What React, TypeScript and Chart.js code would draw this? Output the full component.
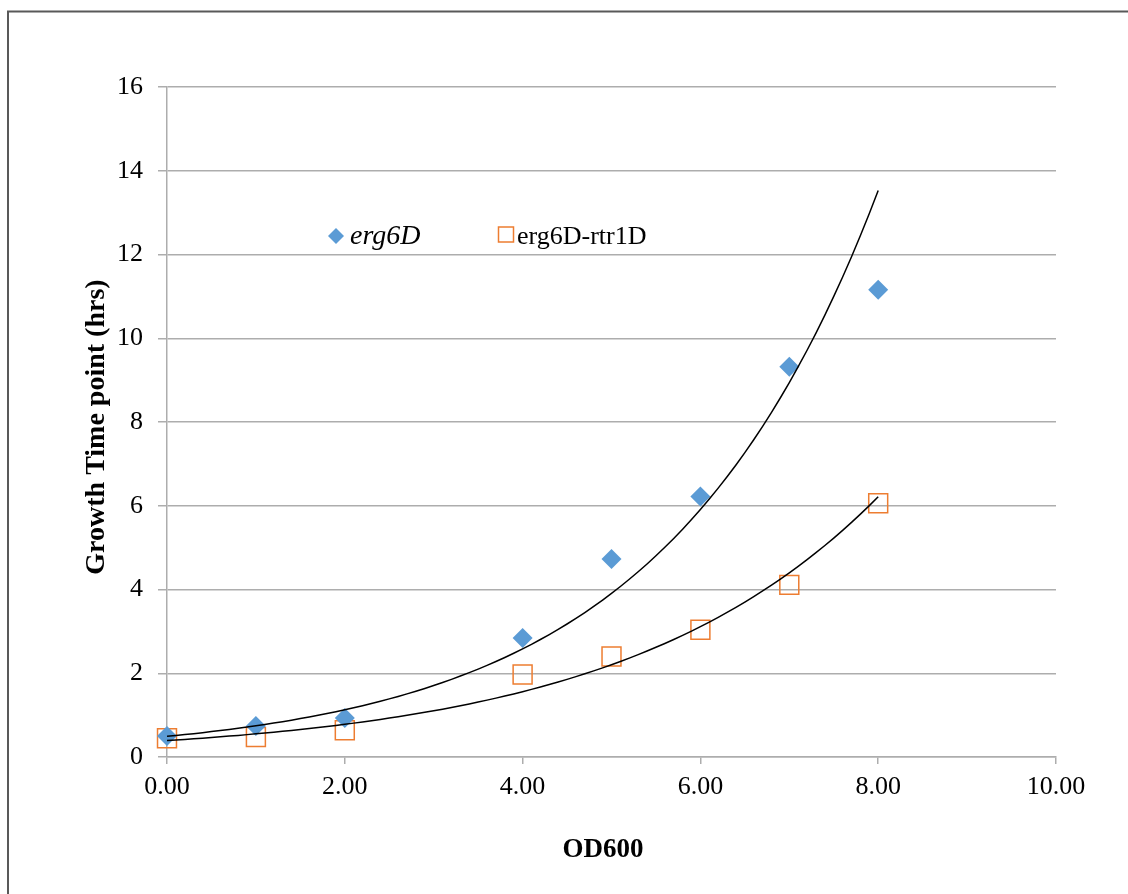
import React, { useEffect, useRef } from "react";
import { Chart, registerables } from "chart.js";

Chart.register(...registerables);

// ---- Data ----
const od600 = [0, 1, 2, 4, 5, 6, 7, 8];
const erg6D = [0.5, 0.74, 0.93, 2.84, 4.73, 6.22, 9.32, 11.16];
const erg6DRtr1D = [0.45, 0.48, 0.64, 1.97, 2.4, 3.04, 4.11, 6.06];
const seriesLabels = ["erg6D", "erg6D-rtr1D"];
const xTickValues = [0, 2, 4, 6, 8, 10];
const yTickValues = [0, 2, 4, 6, 8, 10, 12, 14, 16];
const xTitle = "OD600";
const yTitle = "Growth Time point (hrs)";

const FONT = "'Liberation Serif', 'Times New Roman', serif";
const BLUE = "#5B9BD5";
const ORANGE = "#ED7D31";
const GRID = "#ADADAD";

// Exponential least-squares fit (like a spreadsheet's exponential trendline)
function expFit(xs: number[], ys: number[]) {
  const n = xs.length;
  const ly = ys.map((v) => Math.log(v));
  const mx = xs.reduce((a, b) => a + b, 0) / n;
  const my = ly.reduce((a, b) => a + b, 0) / n;
  let sxy = 0;
  let sxx = 0;
  for (let i = 0; i < n; i++) {
    sxy += (xs[i] - mx) * (ly[i] - my);
    sxx += (xs[i] - mx) * (xs[i] - mx);
  }
  const b = sxy / sxx;
  const a = Math.exp(my - b * mx);
  return (x: number) => a * Math.exp(b * x);
}

function trendPoints(xs: number[], ys: number[]) {
  const f = expFit(xs, ys);
  const lo = Math.min(...xs);
  const hi = Math.max(...xs);
  const pts: { x: number; y: number }[] = [];
  const steps = 80;
  for (let i = 0; i <= steps; i++) {
    const x = lo + ((hi - lo) * i) / steps;
    pts.push({ x, y: f(x) });
  }
  return pts;
}

const framePlugin = {
  id: "frame",
  beforeDraw(chart: any) {
    const ctx = chart.ctx;
    ctx.save();
    ctx.fillStyle = "#ffffff";
    ctx.fillRect(0, 0, chart.width, chart.height);
    ctx.strokeStyle = "#595959";
    ctx.lineWidth = 2;
    ctx.beginPath();
    ctx.moveTo(8, chart.height + 10);
    ctx.lineTo(8, 11.5);
    ctx.lineTo(chart.width + 10, 11.5);
    ctx.stroke();
    ctx.restore();
  },
};

const titlesAndLegend = {
  id: "titlesAndLegend",
  afterDraw(chart: any) {
    const ctx = chart.ctx;
    ctx.save();
    // axis titles
    ctx.fillStyle = "#000";
    ctx.textAlign = "center";
    ctx.textBaseline = "middle";
    ctx.font = `bold 27px ${FONT}`;
    ctx.fillText(xTitle, 603, 850);
    ctx.save();
    ctx.translate(97, 427);
    ctx.rotate(-Math.PI / 2);
    ctx.font = `bold 28px ${FONT}`;
    ctx.fillText(yTitle, 0, 0);
    ctx.restore();

    // legend
    ctx.textBaseline = "middle";
    ctx.textAlign = "left";
    const y = 236;
    ctx.fillStyle = BLUE;
    ctx.beginPath();
    ctx.moveTo(336, y - 8);
    ctx.lineTo(344, y);
    ctx.lineTo(336, y + 8);
    ctx.lineTo(328, y);
    ctx.closePath();
    ctx.fill();
    ctx.fillStyle = "#000";
    ctx.font = `italic 28px ${FONT}`;
    ctx.fillText(seriesLabels[0], 350, y + 1);
    ctx.strokeStyle = ORANGE;
    ctx.lineWidth = 1.5;
    ctx.strokeRect(498.5, 227, 15, 15);
    ctx.fillStyle = "#000";
    ctx.font = `26px ${FONT}`;
    ctx.fillText(seriesLabels[1], 517, y + 1);
    ctx.restore();
  },
};

export default function App() {
  const ref = useRef<HTMLCanvasElement | null>(null);

  useEffect(() => {
    if (!ref.current) return;
    const chart = new Chart(ref.current, {
      type: "scatter",
      data: {
        datasets: [
          {
            label: seriesLabels[0] + " trend",
            data: trendPoints(od600, erg6D),
            showLine: true,
            borderColor: "#000000",
            borderWidth: 1.5,
            pointRadius: 0,
            fill: false,
            order: 0,
          },
          {
            label: seriesLabels[1] + " trend",
            data: trendPoints(od600, erg6DRtr1D),
            showLine: true,
            borderColor: "#000000",
            borderWidth: 1.5,
            pointRadius: 0,
            fill: false,
            order: 0,
          },
          {
            label: seriesLabels[0],
            data: od600.map((x, i) => ({ x, y: erg6D[i] })),
            pointStyle: "rectRot",
            pointRadius: 10,
            backgroundColor: BLUE,
            borderColor: BLUE,
            borderWidth: 0,
            clip: false,
            order: 1,
          },
          {
            label: seriesLabels[1],
            data: od600.map((x, i) => ({ x, y: erg6DRtr1D[i] })),
            pointStyle: "rect",
            pointRadius: 13.4,
            backgroundColor: "rgba(255,255,255,0)",
            borderColor: ORANGE,
            borderWidth: 1.5,
            clip: false,
            order: 1,
          },
        ],
      },
      options: {
        animation: false,
        responsive: false,
        maintainAspectRatio: false,
        layout: { padding: { left: 0, top: 87, right: 72, bottom: 0 } },
        plugins: {
          legend: { display: false },
          tooltip: { enabled: false },
        },
        scales: {
          x: {
            type: "linear",
            min: 0,
            max: 10,
            afterBuildTicks: (s: any) => {
              s.ticks = xTickValues.map((v) => ({ value: v }));
            },
            afterFit: (s: any) => {
              s.height = 137;
            },
            ticks: {
              color: "#000",
              font: { family: FONT, size: 26 },
              padding: 8,
              maxRotation: 0,
              callback: (v: any) => Number(v).toFixed(2),
            },
            grid: {
              drawOnChartArea: false,
              drawTicks: true,
              tickLength: 7,
              color: GRID,
              lineWidth: 1.5,
            },
            border: { display: true, color: GRID, width: 1.5 },
            title: { display: false },
          },
          y: {
            type: "linear",
            min: 0,
            max: 16,
            afterBuildTicks: (s: any) => {
              s.ticks = yTickValues.map((v) => ({ value: v }));
            },
            afterFit: (s: any) => {
              s.width = 167;
            },
            ticks: {
              color: "#000",
              font: { family: FONT, size: 26 },
              padding: 15,
            },
            grid: {
              drawOnChartArea: true,
              drawTicks: true,
              tickLength: 9,
              color: GRID,
              lineWidth: 1.5,
            },
            border: { display: true, color: GRID, width: 1.5 },
            title: { display: false },
          },
        },
      },
      plugins: [framePlugin, titlesAndLegend],
    } as any);
    return () => chart.destroy();
  }, []);

  return (
    <canvas
      ref={ref}
      width={1128}
      height={894}
      style={{ position: "absolute", left: 0, top: 0, width: 1128, height: 894 }}
    />
  );
}
